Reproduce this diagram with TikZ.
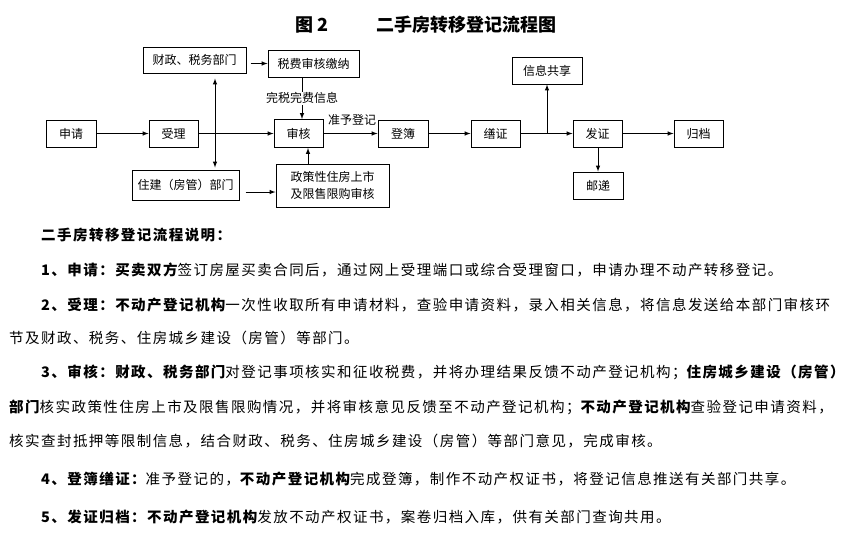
\documentclass[tikz,border=0pt]{standalone}
\usepackage{fontspec}
\setmainfont{Noto Sans CJK SC}
\newfontfamily\bodyfont{Noto Sans CJK SC}[LetterSpace=10]
\usetikzlibrary{calc}

\begin{document}
\begin{tikzpicture}[x=1pt,y=-1pt,
  box/.style={draw,line width=1pt,minimum height=27pt,inner sep=0pt,
    font=\fontsize{12}{17}\selectfont},
  arr/.style={-latex,line width=1pt},
  lbl/.style={inner sep=1pt,font=\fontsize{12}{14}\selectfont},
  txt/.style={anchor=west,inner sep=0pt,font=\bodyfont\fontsize{14.5}{16}\selectfont}]
  \useasboundingbox (0,0) rectangle (850,539);

  % title
  \node[font=\bfseries\fontsize{18}{20}\selectfont] (fig) at (312,25) {图 2};
  \node[font=\bfseries\fontsize{18}{20}\selectfont] (title) at (466,25) {二手房转移登记流程图};

  % main row
  \node[box,minimum width=50pt] (sq) at (71,133.5) {申请};
  \node[box,minimum width=49pt] (sl) at (173.5,133.5) {受理};
  \node[box,minimum width=49pt,minimum height=28pt] (sh) at (298.5,133.5) {审核};
  \node[box,minimum width=50pt] (db) at (403,133.5) {登簿};
  \node[box,minimum width=49pt] (sz) at (495.5,133.5) {缮证};
  \node[box,minimum width=49pt] (fz) at (597.5,133.5) {发证};
  \node[box,minimum width=49pt] (gd) at (698.5,133.5) {归档};
  \node[box,minimum width=70pt] (xx) at (547,70.5) {信息共享};
  \node[box,minimum width=50pt] (yd) at (598,185.5) {邮递};

  % departments
  \node[box,minimum width=103pt,minimum height=26pt] (cz) at (194.5,60) {财政、税务部门};
  \node[box,minimum width=91pt] (sf) at (313.5,63.5) {税费审核缴纳};
  \node[box,minimum width=107pt,minimum height=30pt] (zj) at (185.5,185) {住建（房管）部门};
  \node[box,minimum width=113pt,minimum height=43pt,align=center] (zc) at (332.5,185.5)
    {政策性住房上市\\及限售限购审核};

  \coordinate (vx) at (215,0);
  \coordinate (tx) at (302,0);
  \coordinate (ux) at (308,0);
  \coordinate (uy) at (0,192);

  \draw[arr] (sq) -- (sl);
  \draw[arr] (sl) -- (sh);
  \draw[arr,shorten <=4pt] (cz.east |- sf.west) -- (sf.west);
  \draw[latex-latex,line width=1pt,shorten <=5pt,shorten >=2pt] (cz.south -| vx) -- (zj.north -| vx);
  \draw[arr] (sf.south -| tx) -- node[lbl,fill=white] (wsxx) {完税完费信息} (sh.north -| tx);
  \draw[arr,shorten <=6pt] (zj.east |- uy) -- (zc.west |- uy);
  \draw[arr] (zc.north -| ux) -- (sh.south -| ux);
  \draw[arr] (sh) -- (db);
  \node[lbl] (zydj) at (352,120) {准予登记};
  \draw[arr] (db) -- (sz);
  \draw[arr] (sz) -- (fz);
  \draw[arr] (sz.east -| xx) -- (xx.south);
  \draw[arr] (fz) -- (gd);
  \draw[arr] (fz.south -| yd) -- (yd.north);

  % explanation
  \node[txt] (t0) at (41,235) {\bfseries 二手房转移登记流程说明：};
  \node[txt] (t1) at (41,270) {\bfseries 1、申请：买卖双方\mdseries 签订房屋买卖合同后，通过网上受理端口或综合受理窗口，申请办理不动产转移登记。};
  \node[txt] (t2) at (41,305) {\bfseries 2、受理：不动产登记机构\mdseries 一次性收取所有申请材料，查验申请资料，录入相关信息，将信息发送给本部门审核环};
  \node[txt] (t2b) at (9,338) {节及财政、税务、住房城乡建设（房管）等部门。};
  \node[txt] (t3) at (41,372) {\bfseries 3、审核：财政、税务部门\mdseries 对登记事项核实和征收税费，并将办理结果反馈不动产登记机构；\bfseries 住房城乡建设（房管）};
  \node[txt] (t3b) at (9,407) {\bfseries 部门\mdseries 核实政策性住房上市及限售限购情况，并将审核意见反馈至不动产登记机构；\bfseries 不动产登记机构\mdseries 查验登记申请资料，};
  \node[txt] (t3c) at (9,441) {核实查封抵押等限制信息，结合财政、税务、住房城乡建设（房管）等部门意见，完成审核。};
  \node[txt] (t4) at (41,479) {\bfseries 4、登簿缮证：\mdseries 准予登记的，\bfseries 不动产登记机构\mdseries 完成登簿，制作不动产权证书，将登记信息推送有关部门共享。};
  \node[txt] (t5) at (41,517) {\bfseries 5、发证归档：不动产登记机构\mdseries 发放不动产权证书，案卷归档入库，供有关部门查询共用。};
\end{tikzpicture}
\end{document}
